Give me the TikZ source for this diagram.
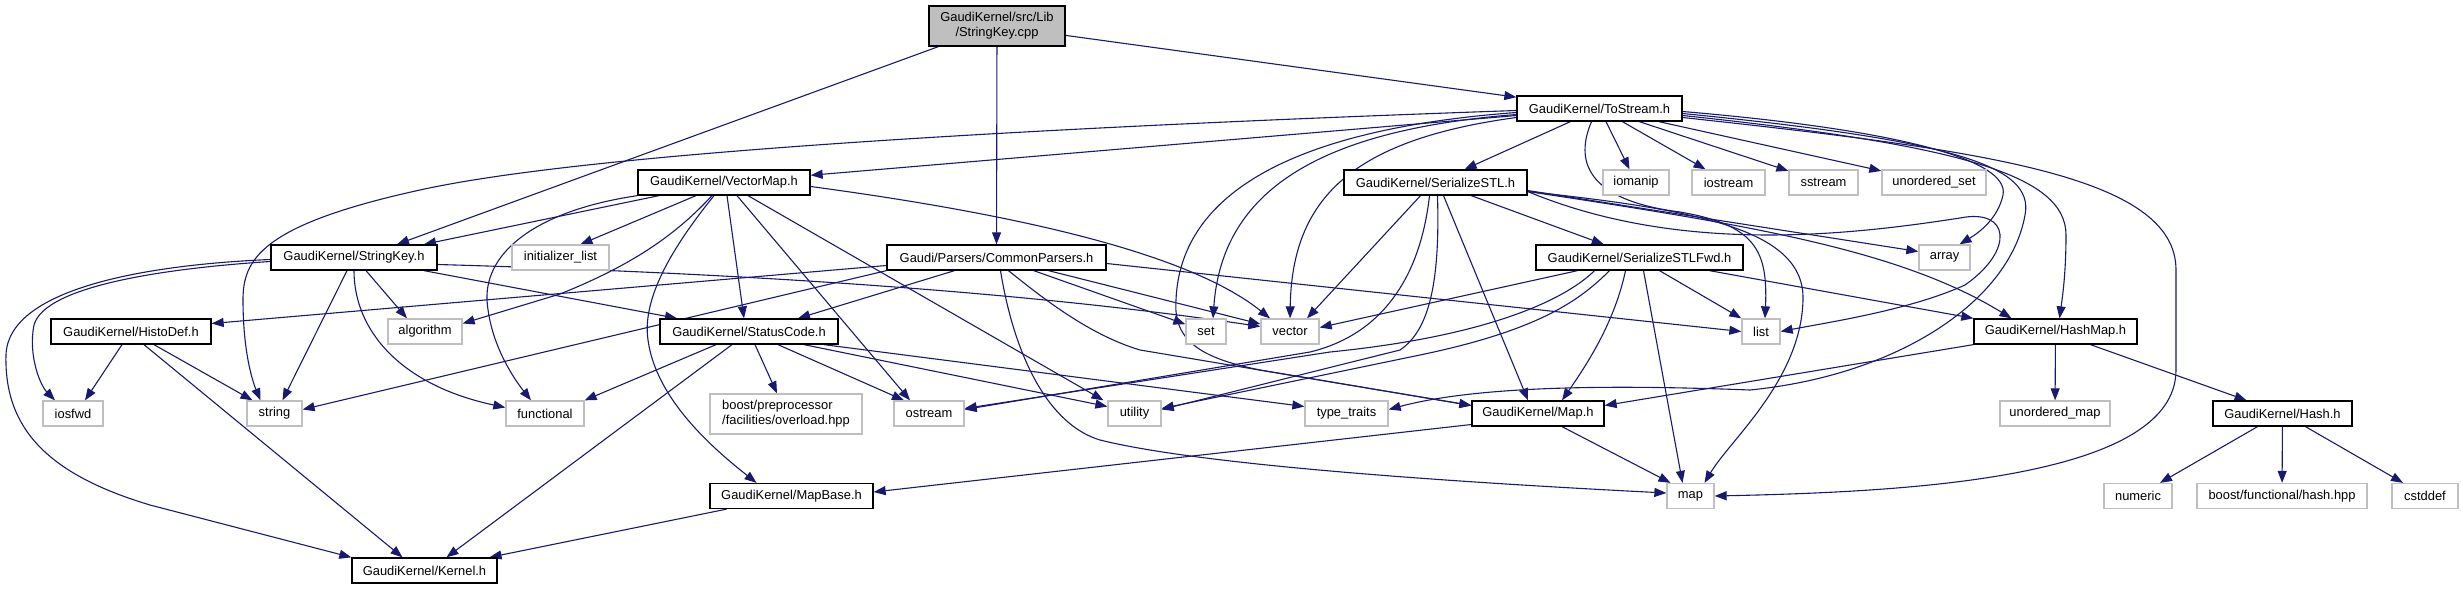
\documentclass[tikz,border=0pt]{standalone}
\usepackage{fontspec}
\setmainfont{Liberation Sans}
\usetikzlibrary{arrows.meta,backgrounds}
\definecolor{edgeblue}{HTML}{191970}
\definecolor{extgray}{HTML}{BFBFBF}
\definecolor{rootfill}{HTML}{BFBFBF}
\begin{document}
\begin{tikzpicture}[x=1pt,y=-1pt,
  box/.style={draw=black, line width=1.3pt, fill=white, inner sep=0pt, minimum height=25pt, font=\fontsize{12.9}{15}\selectfont, align=center},
  ext/.style={box, draw=extgray},
  rootbox/.style={box, fill=rootfill, minimum height=40pt},
  edge/.style={draw=edgeblue, line width=1.1pt, -{Triangle[length=12pt,width=9pt]}}]
\useasboundingbox (0,0) rectangle (2463,589);
% nodes
\node[rootbox, minimum width=136pt] (root) at (997,26) {GaudiKernel/src/Lib\\/StringKey.cpp};
\node[box, minimum width=165pt] (tostream) at (1599.5,108.5) {GaudiKernel/ToStream.h};
\node[box, minimum width=172pt] (vectormap) at (724,182.5) {GaudiKernel/VectorMap.h};
\node[box, minimum width=183pt] (serializestl) at (1435.5,182.5) {GaudiKernel/SerializeSTL.h};
\node[ext, minimum width=66pt] (iomanip) at (1636,182.5) {iomanip};
\node[ext, minimum width=73pt] (iostream) at (1728.5,182.5) {iostream};
\node[ext, minimum width=69pt] (sstream) at (1823.5,182.5) {sstream};
\node[ext, minimum width=104pt] (unorderedset) at (1934,182.5) {unordered\_set};
\node[box, minimum width=166pt] (stringkey) at (354,257.5) {GaudiKernel/StringKey.h};
\node[ext, minimum width=97pt] (initlist) at (560.5,257.5) {initializer\_list};
\node[box, minimum width=219pt] (commonparsers) at (996.5,257.5) {Gaudi/Parsers/CommonParsers.h};
\node[box, minimum width=207pt] (fwd) at (1639.5,257.5) {GaudiKernel/SerializeSTLFwd.h};
\node[ext, minimum width=51pt] (array) at (1944.5,257.5) {array};
\node[box, minimum width=160pt] (histodef) at (131,331.5) {GaudiKernel/HistoDef.h};
\node[ext, minimum width=74pt] (algorithm) at (425,331.5) {algorithm};
\node[box, minimum width=178pt] (statuscode) at (749,331.5) {GaudiKernel/StatusCode.h};
\node[ext, minimum width=40pt] (set) at (1206,331.5) {set};
\node[ext, minimum width=58pt] (vector) at (1290,331.5) {vector};
\node[ext, minimum width=38pt] (list) at (1761,331.5) {list};
\node[box, minimum width=163pt] (hashmap) at (2055.5,331.5) {GaudiKernel/HashMap.h};
\node[ext, minimum width=60pt] (iosfwd) at (73,413.5) {iosfwd};
\node[ext, minimum width=55pt] (string) at (274.5,413.5) {string};
\node[ext, minimum width=78pt] (functional) at (545,413.5) {functional};
\node[ext, minimum width=152pt, minimum height=40pt, align=left] (boostpp) at (786,414) {boost/preprocessor\\/facilities/overload.hpp};
\node[ext, minimum width=70pt] (ostream) at (929,413.5) {ostream};
\node[ext, minimum width=53pt] (utility) at (1134.5,413.5) {utility};
\node[ext, minimum width=83pt] (typetraits) at (1346.5,413.5) {type\_traits};
\node[box, minimum width=132pt] (maph) at (1538,413.5) {GaudiKernel/Map.h};
\node[ext, minimum width=110pt] (unorderedmap) at (2055,413.5) {unordered\_map};
\node[box, minimum width=139pt] (hash) at (2282.5,413.5) {GaudiKernel/Hash.h};
\node[box, minimum width=163pt] (mapbase) at (791.5,496) {GaudiKernel/MapBase.h};
\node[ext, minimum width=47pt] (map) at (1690.5,496) {map};
\node[ext, minimum width=68pt] (numeric) at (2138,496) {numeric};
\node[ext, minimum width=170pt] (boosthash) at (2282,496) {boost/functional/hash.hpp};
\node[ext, minimum width=66pt] (cstddef) at (2425,496) {cstddef};
\node[box, minimum width=145pt] (kernel) at (424.5,570.5) {GaudiKernel/Kernel.h};
% edges
\begin{scope}[on background layer]
% root
\draw[edge] (root) -- (tostream);
\draw[edge] (root) -- (commonparsers);
\draw[edge] ([xshift=10pt]root.south west) -- ([xshift=43pt]stringkey.north);
% ToStream
\draw[edge] (tostream) -- (vectormap);
\draw[edge] ([yshift=-2pt]tostream.west) .. controls (1100,125) and (600,150) .. (420,190) .. controls (260,225) and (243,260) .. (243,300) .. controls (243,350) and (252,380) .. ([xshift=-14pt]string.north);
\draw[edge] (tostream) -- (serializestl);
\draw[edge] (tostream) -- (iomanip);
\draw[edge] (tostream) -- (iostream);
\draw[edge] (tostream) -- (sstream);
\draw[edge] (tostream) -- (unorderedset);
\draw[edge] ([yshift=-3pt]tostream.east) .. controls (1900,130) and (2010,160) .. (2003,195) .. controls (1998,218) and (1980,232) .. ([xshift=15pt]array.north);
\draw[edge] ([yshift=-5pt]tostream.east) .. controls (1950,140) and (2035,165) .. (2025,215) .. controls (2010,300) and (1900,375) .. (1750,390) .. controls (1620,385) and (1480,385) .. ([yshift=4pt]typetraits.east);
\draw[edge] ([yshift=-7pt]tostream.east) .. controls (1960,145) and (2066,175) .. (2066,235) .. controls (2066,275) and (2062,300) .. ([xshift=4pt]hashmap.north);
\draw[edge] ([yshift=-9pt]tostream.east) .. controls (1980,150) and (2176,175) .. (2176,270) -- (2176,370) .. controls (2176,480) and (1900,492) .. (map.east);
\draw[edge] ([xshift=-8pt]tostream.south) .. controls (1575,160) and (1585,200) .. (1680,212) .. controls (1755,225) and (1768,250) .. ([xshift=4pt]list.north);
\draw[edge] ([yshift=-6pt]tostream.west) .. controls (1320,130) and (1222,190) .. ([xshift=7pt]set.north);
\draw[edge] ([yshift=-9pt]tostream.west) .. controls (1350,140) and (1292,200) .. (vector.north);
\draw[edge] ([yshift=-4pt]tostream.west) .. controls (1280,130) and (1180,200) .. (1176,300) .. controls (1173,340) and (1200,358) .. (1260,370) -- ([yshift=8pt]maph.west);
% SerializeSTL
\draw[edge] (serializestl) -- (fwd);
\draw[edge] ([yshift=-8pt]serializestl.east) -- ([yshift=6pt]array.west);
\draw[edge] ([yshift=-9pt]serializestl.east) .. controls (1680,255) and (1850,235) .. (1960,218) .. controls (2010,208) and (2015,250) .. (1965,285) .. controls (1910,310) and (1830,322) .. (list.east);
\draw[edge] ([yshift=-9pt]serializestl.east) .. controls (1700,210) and (1805,230) .. (1803,300) .. controls (1801,380) and (1730,440) .. ([xshift=14pt]map.north);
\draw[edge] ([yshift=-9pt]serializestl.east) .. controls (1750,225) and (1900,250) .. ([xshift=-44pt]hashmap.north);
\draw[edge] ([xshift=-15pt]serializestl.south) -- ([xshift=17pt]vector.north);
\draw[edge] ([xshift=-6pt]serializestl.south) .. controls (1420,280) and (1380,335) .. (1310,352) -- ([yshift=4pt]ostream.east);
\draw[edge] ([xshift=2pt]serializestl.south) .. controls (1440,280) and (1430,330) .. (1400,350) -- ([yshift=4pt]utility.east);
\draw[edge] ([xshift=8pt]serializestl.south) -- ([xshift=-10pt]maph.north);
% SerializeSTLFwd
\draw[edge] ([xshift=-62pt]fwd.south) -- ([yshift=4pt]vector.east);
\draw[edge] ([xshift=-45pt]fwd.south) .. controls (1570,295) and (1500,335) .. (1330,352) -- ([yshift=5pt]ostream.east);
\draw[edge] ([xshift=-30pt]fwd.south) .. controls (1580,300) and (1540,330) .. (1420,355) -- ([yshift=5pt]utility.east);
\draw[edge] ([xshift=-14pt]fwd.south) .. controls (1615,320) and (1590,360) .. ([xshift=24pt]maph.north);
\draw[edge] ([xshift=4pt]fwd.south) -- ([xshift=-8pt]map.north);
\draw[edge] ([xshift=20pt]fwd.south) -- (list.north west);
\draw[edge] ([xshift=70pt]fwd.south) -- (hashmap.north west);
% CommonParsers
\draw[edge] ([yshift=-8pt]commonparsers.west) -- ([yshift=8pt]histodef.east);
\draw[edge] (commonparsers.south west) -- ([yshift=4pt]string.east);
\draw[edge] ([xshift=-42pt]commonparsers.south) -- ([xshift=49pt]statuscode.north);
\draw[edge] ([xshift=4pt]commonparsers.south) .. controls (1015,360) and (1050,425) .. (1100,440) .. controls (1200,465) and (1450,482) .. ([yshift=3pt]map.west);
\draw[edge] ([xshift=12pt]commonparsers.south) .. controls (1045,300) and (1090,335) .. (1140,350) -- ([yshift=8pt]maph.west);
\draw[edge] (commonparsers) -- (set);
\draw[edge] (commonparsers) -- (vector);
\draw[edge] ([yshift=-6pt]commonparsers.east) -- (list.west);
% StringKey
\draw[edge] ([yshift=-4pt]stringkey.west) .. controls (170,268) and (45,285) .. (34,325) .. controls (28,355) and (40,385) .. ([xshift=-18pt]iosfwd.north);
\draw[edge] ([yshift=-2pt]stringkey.west) .. controls (140,265) and (8,290) .. (6,355) .. controls (4,430) and (50,475) .. (150,505) -- (kernel.north west);
\draw[edge] ([xshift=12pt]stringkey.south) -- ([xshift=-18pt]algorithm.north);
\draw[edge] ([xshift=-7pt]stringkey.south) -- ([xshift=8pt]string.north);
\draw[edge] (stringkey.south) .. controls (354,330) and (400,385) .. ([yshift=6pt]functional.west);
\draw[edge] ([xshift=70pt]stringkey.south) -- ([xshift=-72pt]statuscode.north);
\draw[edge] ([yshift=-7pt]stringkey.east) .. controls (700,272) and (1000,288) .. ([yshift=5pt]vector.west);
% VectorMap
\draw[edge] ([xshift=-65pt]vectormap.south) -- ([xshift=70pt]stringkey.north);
\draw[edge] ([xshift=-28pt]vectormap.south) -- ([xshift=20pt]initlist.north);
\draw[edge] ([xshift=-12pt]vectormap.south) .. controls (680,230) and (640,262) .. (560,294) -- ([yshift=8pt]algorithm.east);
\draw[edge] (vectormap.south west) .. controls (540,210) and (485,250) .. (487,300) .. controls (490,345) and (515,380) .. ([xshift=-14pt]functional.north);
\draw[edge] ([xshift=3pt]vectormap.south) -- ([xshift=-5pt]statuscode.north);
\draw[edge] ([xshift=-10pt]vectormap.south) .. controls (670,250) and (642,300) .. (648,340) .. controls (656,400) and (715,450) .. ([xshift=-35pt]mapbase.north);
\draw[edge] ([xshift=13pt]vectormap.south) -- ([xshift=-19pt]ostream.north);
\draw[edge] ([xshift=24pt]vectormap.south) -- ([xshift=-31pt]utility.north);
\draw[edge] ([yshift=-4pt]vectormap.east) .. controls (1000,212) and (1185,250) .. ([xshift=-20pt]vector.north);
% StatusCode
\draw[edge] ([xshift=-33pt]statuscode.south) -- (functional.north east);
\draw[edge] ([xshift=-17pt]statuscode.south) -- ([xshift=22pt]kernel.north);
\draw[edge] ([xshift=6pt]statuscode.south) -- ([xshift=-9pt]boostpp.north);
\draw[edge] ([xshift=29pt]statuscode.south) -- ([xshift=-25pt]ostream.north);
\draw[edge] ([xshift=55pt]statuscode.south) -- ([yshift=7pt]utility.west);
\draw[edge] ([xshift=75pt]statuscode.south) -- ([yshift=7pt]typetraits.west);
% HistoDef
\draw[edge] ([xshift=-9pt]histodef.south) -- ([xshift=12pt]iosfwd.north);
\draw[edge] ([xshift=23pt]histodef.south) -- ([xshift=-22pt]string.north);
\draw[edge] ([xshift=13pt]histodef.south) -- ([xshift=-22pt]kernel.north);
% MapBase, Map, HashMap, Hash
\draw[edge] ([xshift=-65pt]mapbase.south) -- ([xshift=65pt]kernel.north);
\draw[edge] ([yshift=-11pt]maph.west) -- ([yshift=4pt]mapbase.east);
\draw[edge] ([xshift=24pt]maph.south) -- ([xshift=-20pt]map.north);
\draw[edge] (hashmap.south west) -- ([yshift=8pt]maph.east);
\draw[edge] (hashmap) -- (unorderedmap);
\draw[edge] ([xshift=35pt]hashmap.south) -- ([xshift=-36pt]hash.north);
\draw[edge] ([xshift=-25pt]hash.south) -- ([xshift=22pt]numeric.north);
\draw[edge] (hash) -- (boosthash);
\draw[edge] ([xshift=23pt]hash.south) -- ([xshift=-22pt]cstddef.north);
\end{scope}
\end{tikzpicture}
\end{document}
